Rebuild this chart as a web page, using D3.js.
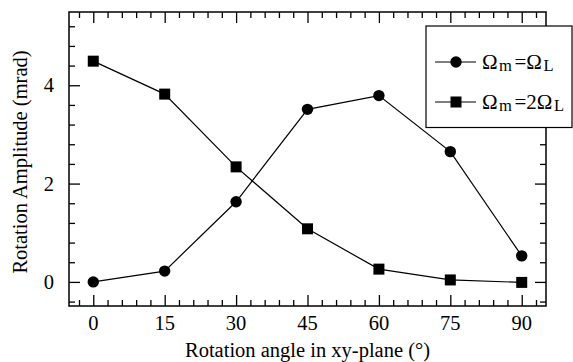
<!DOCTYPE html>
<html>
<head>
<meta charset="utf-8">
<script src="https://cdn.jsdelivr.net/npm/d3@7"></script>
<style>
  body { margin: 0; background: #fff; }
  svg { display: block; }
</style>
</head>
<body>
<svg id="chart" width="573" height="362"></svg>
<script>
// Rotation angle in the xy-plane (degrees)
const angles = [0, 15, 30, 45, 60, 75, 90];
// Rotation amplitude (mrad) for the two modulation frequencies
const ampEqual = [0.00, 0.22, 1.63, 3.51, 3.79, 2.65, 0.53];   // Ωm = ΩL
const ampDouble = [4.49, 3.82, 2.34, 1.08, 0.26, 0.04, -0.01]; // Ωm = 2ΩL
const xTickValues = [0, 15, 30, 45, 60, 75, 90];
const yTickValues = [0, 2, 4];

const FONT = "'Liberation Serif', 'Times New Roman', serif";
const svg = d3.select("#chart");
const plotLeft = 69, plotRight = 546, plotTop = 12, plotBottom = 306;

const x = d3.scaleLinear().domain([-5.1, 95.1]).range([plotLeft, plotRight]);
const y = d3.scaleLinear().domain([-0.49, 5.49]).range([plotBottom, plotTop]);

const xMinor = d3.range(-3, 95, 3).filter(v => !xTickValues.includes(v));
const yMinor = d3.range(-0.4, 5.41, 0.4).map(v => +v.toFixed(1)).filter(v => !yTickValues.includes(v));

const major = 11, minor = 6;
const g = svg.append("g");

// inward ticks on all four sides
function ticks(axisGen, transform) {
  g.append("g").attr("transform", transform).call(axisGen)
    .call(s => s.select(".domain").remove())
    .call(s => s.selectAll("line").attr("stroke", "#000").attr("stroke-width", 1.3));
}
ticks(d3.axisTop(x).tickValues(xTickValues).tickSize(major).tickFormat(""), `translate(0,${plotBottom})`);
ticks(d3.axisTop(x).tickValues(xMinor).tickSize(minor).tickFormat(""), `translate(0,${plotBottom})`);
ticks(d3.axisBottom(x).tickValues(xTickValues).tickSize(major).tickFormat(""), `translate(0,${plotTop})`);
ticks(d3.axisBottom(x).tickValues(xMinor).tickSize(minor).tickFormat(""), `translate(0,${plotTop})`);
ticks(d3.axisRight(y).tickValues(yTickValues).tickSize(major).tickFormat(""), `translate(${plotLeft},0)`);
ticks(d3.axisRight(y).tickValues(yMinor).tickSize(minor).tickFormat(""), `translate(${plotLeft},0)`);
ticks(d3.axisLeft(y).tickValues(yTickValues).tickSize(major).tickFormat(""), `translate(${plotRight},0)`);
ticks(d3.axisLeft(y).tickValues(yMinor).tickSize(minor).tickFormat(""), `translate(${plotRight},0)`);

// tick labels
g.selectAll(".xl").data(xTickValues).enter().append("text")
  .attr("font-family", FONT)
  .attr("x", d => x(d)).attr("y", 330).attr("text-anchor", "middle")
  .attr("font-size", 20.5).text(d => d);
g.selectAll(".yl").data(yTickValues).enter().append("text")
  .attr("font-family", FONT)
  .attr("x", 54).attr("y", d => y(d) + 7).attr("text-anchor", "end")
  .attr("font-size", 20.5).text(d => d);

// axis titles
svg.append("text").attr("font-family", FONT).attr("x", (plotLeft + plotRight) / 2).attr("y", 357)
  .attr("text-anchor", "middle").attr("font-size", 20.5)
  .text("Rotation angle in xy-plane (°)");
svg.append("text").attr("font-family", FONT)
  .attr("transform", "translate(27,162) rotate(-90)")
  .attr("text-anchor", "middle").attr("font-size", 20.5)
  .text("Rotation Amplitude (mrad)");

// data lines and markers
const line = d3.line().x((d, i) => x(angles[i])).y(d => y(d));
const plot = svg.append("g");
plot.append("path").datum(ampEqual).attr("d", line)
  .attr("fill", "none").attr("stroke", "#000").attr("stroke-width", 1.2);
plot.append("path").datum(ampDouble).attr("d", line)
  .attr("fill", "none").attr("stroke", "#000").attr("stroke-width", 1.2);
plot.selectAll(".c").data(ampEqual).enter().append("circle")
  .attr("cx", (d, i) => x(angles[i])).attr("cy", d => y(d)).attr("r", 5.7).attr("fill", "#000");
const sq = 11;
plot.selectAll(".s").data(ampDouble).enter().append("rect")
  .attr("x", (d, i) => x(angles[i]) - sq / 2).attr("y", d => y(d) - sq / 2)
  .attr("width", sq).attr("height", sq).attr("fill", "#000");

// frame
svg.append("rect").attr("x", plotLeft).attr("y", plotTop)
  .attr("width", plotRight - plotLeft).attr("height", plotBottom - plotTop)
  .attr("fill", "none").attr("stroke", "#000").attr("stroke-width", 1.5);

// legend
const lg = svg.append("g");
lg.append("rect").attr("x", 426).attr("y", 26).attr("width", 146).attr("height", 101.5)
  .attr("fill", "#fff").attr("stroke", "#000").attr("stroke-width", 1.2);
const entries = [
  { y: 62, marker: "circle", parts: ["Ω", "m", "=Ω", "L"] },
  { y: 102, marker: "square", parts: ["Ω", "m", "=2Ω", "L"] }
];
entries.forEach(e => {
  lg.append("line").attr("x1", 435).attr("x2", 476).attr("y1", e.y).attr("y2", e.y)
    .attr("stroke", "#000").attr("stroke-width", 1.2);
  if (e.marker === "circle") {
    lg.append("circle").attr("cx", 456).attr("cy", e.y).attr("r", 5.7).attr("fill", "#000");
  } else {
    lg.append("rect").attr("x", 456 - sq / 2).attr("y", e.y - sq / 2).attr("width", sq).attr("height", sq).attr("fill", "#000");
  }
  const t = lg.append("text").attr("font-family", FONT)
    .attr("x", 482).attr("y", e.y + 6.5).attr("font-size", 21);
  t.append("tspan").text(e.parts[0]);
  t.append("tspan").attr("font-size", 16.5).attr("dx", 1.5).attr("dy", 2).text(e.parts[1]);
  t.append("tspan").attr("dx", 2.5).attr("dy", -2).text(e.parts[2]);
  t.append("tspan").attr("font-size", 16.5).attr("dx", 1.5).attr("dy", 2).text(e.parts[3]);
});
</script>
</body>
</html>
